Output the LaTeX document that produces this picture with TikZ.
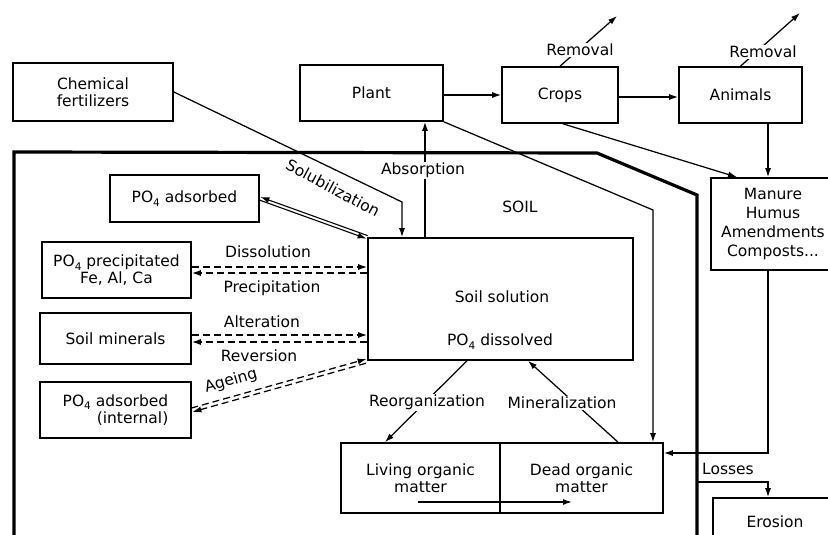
\documentclass[tikz,border=0pt]{standalone}
\usepackage{fontspec}
\setmainfont{DejaVu Sans}
\usetikzlibrary{arrows.meta,calc}
\newcommand\subfour{\raisebox{-0.45ex}{\fontsize{10.5}{10.5}\selectfont 4}}
\begin{document}
\begin{tikzpicture}[x=1pt,y=-1pt,
  font=\fontsize{15.5}{17.5}\selectfont,
  box/.style={draw, line width=1.7pt, inner sep=0pt, align=center},
  tip/.style={-{Latex[length=9pt,width=6pt]}},
  rtip/.style={{Latex[length=9pt,width=6pt]}-},
  conn/.style={line width=1.25pt, tip},
  dsh/.style={line width=1.25pt, dash pattern=on 7pt off 4pt},
  lbl/.style={inner sep=1pt},
  wl/.style={lbl, fill=white},
  soilline/.style={line width=3.2pt, line join=miter}]
\useasboundingbox (0,0) rectangle (828,535);

% soil boundary
\coordinate (sbl) at (14,545);
\coordinate (stl) at (14,152);
\coordinate (stm) at (597,153);
\coordinate (str) at (697,195);
\coordinate (sbr) at (697,545);
\draw[soilline] (sbl) -- (stl) -- (stm) -- (str) -- (sbr);
\node (soillab) at (520,207) {SOIL};

% boxes
\node[box, minimum width=160pt, minimum height=58pt] (fert) at (93,92) {Chemical\\fertilizers};
\node[box, minimum width=143pt, minimum height=56pt] (plant) at (371.5,93) {Plant};
\node[box, minimum width=116pt, minimum height=56pt] (crops) at (560,95) {Crops};
\node[box, minimum width=123pt, minimum height=56pt] (animals) at (740.5,95) {Animals};
\node[box, minimum width=124pt, minimum height=92pt, font=\fontsize{15.5}{19}\selectfont] (manure) at (773,224) {Manure\\Humus\\Amendments\\Composts...};
\node[box, minimum width=124pt, minimum height=64pt] (erosion) at (775,530) {};
\node (erosiontxt) at (775,522) {Erosion};
\node[box, minimum width=149pt, minimum height=47pt] (adsorbed) at (184.5,198.5) {PO\subfour\ adsorbed};
\node[box, minimum width=149pt, minimum height=56pt] (precip) at (116.5,270) {PO\subfour\ precipitated\\Fe, Al, Ca};
\node[box, minimum width=151pt, minimum height=51pt] (minerals) at (115.5,338.5) {Soil minerals};
\node[box, minimum width=151pt, minimum height=56pt, align=right] (internal) at (115.5,410) {PO\subfour\ adsorbed\\(internal)};
\node[box, minimum width=265pt, minimum height=122pt] (soil) at (500.5,299) {};
\node (soiltxt) at (502,297) {Soil solution};
\node (soilpo) at (500,342) {PO\subfour\ dissolved};
\node[box, minimum width=159pt, minimum height=70pt] (living) at (420.5,478) {Living organic\\matter};
\node[box, minimum width=163pt, minimum height=70pt] (dead) at (581.5,478) {Dead organic\\matter};

% top chain
\draw[conn] (plant.east |- 0,95) -- (crops.west);
\draw[conn] (crops.east |- 0,97) -- (animals.west |- 0,97);
\coordinate (rem1) at (617,16);
\coordinate (rem2) at (800,13);
\draw[conn] (crops.north) -- (rem1);
\draw[conn] (animals.north) -- (rem2);
\node[wl] (remlab1) at (580,50) {Removal};
\node[wl] (remlab2) at (763,52) {Removal};

% to manure
\draw[conn] ([xshift=3pt]crops.south) -- ([xshift=-36pt]manure.north);
\draw[conn] (animals.south -| 768,0) -- (manure.north -| 768,0);
\draw[conn] (manure.south -| 768,0) |- (dead.east |- 0,453);

% plant to dead
\coordinate (pbend) at (653,210);
\draw[conn] (plant.south east) -- (pbend) -- (dead.north -| 653,0);

% absorption
\draw[conn] (soil.north -| 425,0) -- (plant.south -| 425,0);
\node[wl] (abs) at (423,170) {Absorption};

% solubilization
\coordinate (solbend) at (402,202);
\draw[conn] (fert.east) -- (solbend) -- (soil.north -| 402,0);
\node[lbl, rotate=-28] (sol) at (333,188) {Solubilization};

% adsorbed double
\draw[line width=1.1pt, rtip] ($(adsorbed.east)!1.6pt!90:(soil.north west)$) -- ($(soil.north west)!1.6pt!-90:(adsorbed.east)$);
\draw[line width=1.1pt, tip] ($(adsorbed.east)!1.6pt!-90:(soil.north west)$) -- ($(soil.north west)!1.6pt!90:(adsorbed.east)$);

% dissolution / precipitation
\draw[dsh, tip] (precip.east |- 0,267) -- (soil.west |- 0,267);
\draw[dsh, tip] (soil.west |- 0,273) -- (precip.east |- 0,273);
\node[lbl] (diss) at (268,252) {Dissolution};
\node[lbl] (prec) at (272,288) {Precipitation};

% alteration / reversion
\draw[dsh, tip] (minerals.east |- 0,335) -- (soil.west |- 0,335);
\draw[dsh, tip] (soil.west |- 0,342) -- (minerals.east |- 0,342);
\node[lbl] (alt) at (262,322) {Alteration};
\node[lbl] (rev) at (259,356) {Reversion};

% ageing
\draw[dsh, tip] ($(internal.east)!2pt!90:(soil.south west)$) -- ($(soil.south west)!2pt!-90:(internal.east)$);
\draw[dsh, rtip] ($(internal.east)!2pt!-90:(soil.south west)$) -- ($(soil.south west)!2pt!90:(internal.east)$);
\node[lbl, rotate=16] (age) at (231,381) {Ageing};

% organic
\draw[conn] (soil.south -| 467,0) -- (living.north -| 385,0);
\draw[conn] (dead.north -| 618,0) -- (soil.south -| 528,0);
\node[wl] (reorg) at (427,402) {Reorganization};
\node[wl] (miner) at (562,403) {Mineralization};
\coordinate (inA) at (418,502);
\coordinate (inB) at (572,502);
\draw[conn] (inA) -- (inB);

% losses
\coordinate (lossstart) at (697,482);
\draw[conn] (lossstart) -| (erosion.north -| 768,0);
\node[lbl] (losses) at (728,469) {Losses};
\end{tikzpicture}
\end{document}
